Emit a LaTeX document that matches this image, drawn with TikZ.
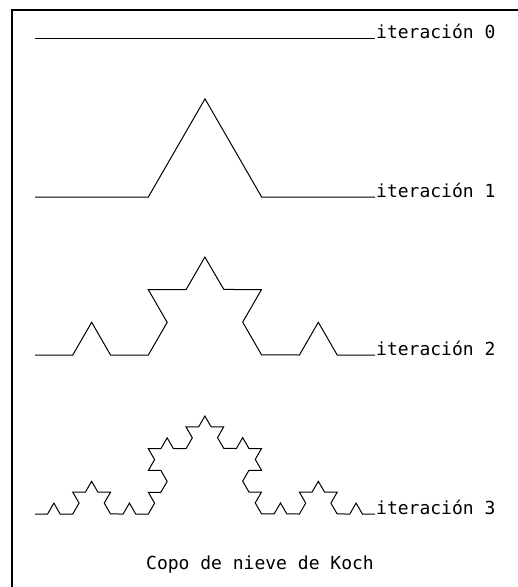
\documentclass[tikz,border=0pt]{standalone}
\usepackage{fontspec}
\newfontfamily\cadfont{DejaVu Sans Mono}
\usetikzlibrary{decorations.fractals}
\tikzset{
  curve/.style={line width=1pt, line join=miter},
  frameline/.style={line width=2.2pt},
  itlabel/.style={font=\cadfont\fontsize{18}{18}\selectfont, inner sep=1pt, anchor=base west},
  caption/.style={font=\cadfont\fontsize{18}{18}\selectfont, inner sep=0pt, anchor=base},
  koch/.style={decoration={Koch snowflake}}
}
\begin{document}
\begin{tikzpicture}[x=1pt,y=-1pt]
\useasboundingbox (0,0) rectangle (518,587);
% frame (top and left edges)
\coordinate (ftr) at (520,10);
\coordinate (ftl) at (12,10);
\coordinate (fbl) at (12,589);
\draw[frameline] (ftr) -- (ftl) -- (fbl);
% end points
\coordinate (s0) at (35,38);  \coordinate (e0) at (375,38);
\coordinate (s1) at (35,197); \coordinate (e1) at (375,197);
\coordinate (s2) at (35,355); \coordinate (e2) at (375,355);
\coordinate (s3) at (35,514); \coordinate (e3) at (375,514);
% iterations
\draw[curve] (s0) -- (e0);
\draw[curve, koch] decorate{ (s1) -- (e1) };
\draw[curve, koch] decorate{ decorate{ (s2) -- (e2) } };
\draw[curve, koch] decorate{ decorate{ decorate{ (s3) -- (e3) } } };
% labels
\node[itlabel] (l0) at (e0) {iteración 0};
\node[itlabel] (l1) at (e1) {iteración 1};
\node[itlabel] (l2) at (e2) {iteración 2};
\node[itlabel] (l3) at (e3) {iteración 3};
\node[caption] (cap) at (260,569) {Copo de nieve de Koch};
\end{tikzpicture}
\end{document}
